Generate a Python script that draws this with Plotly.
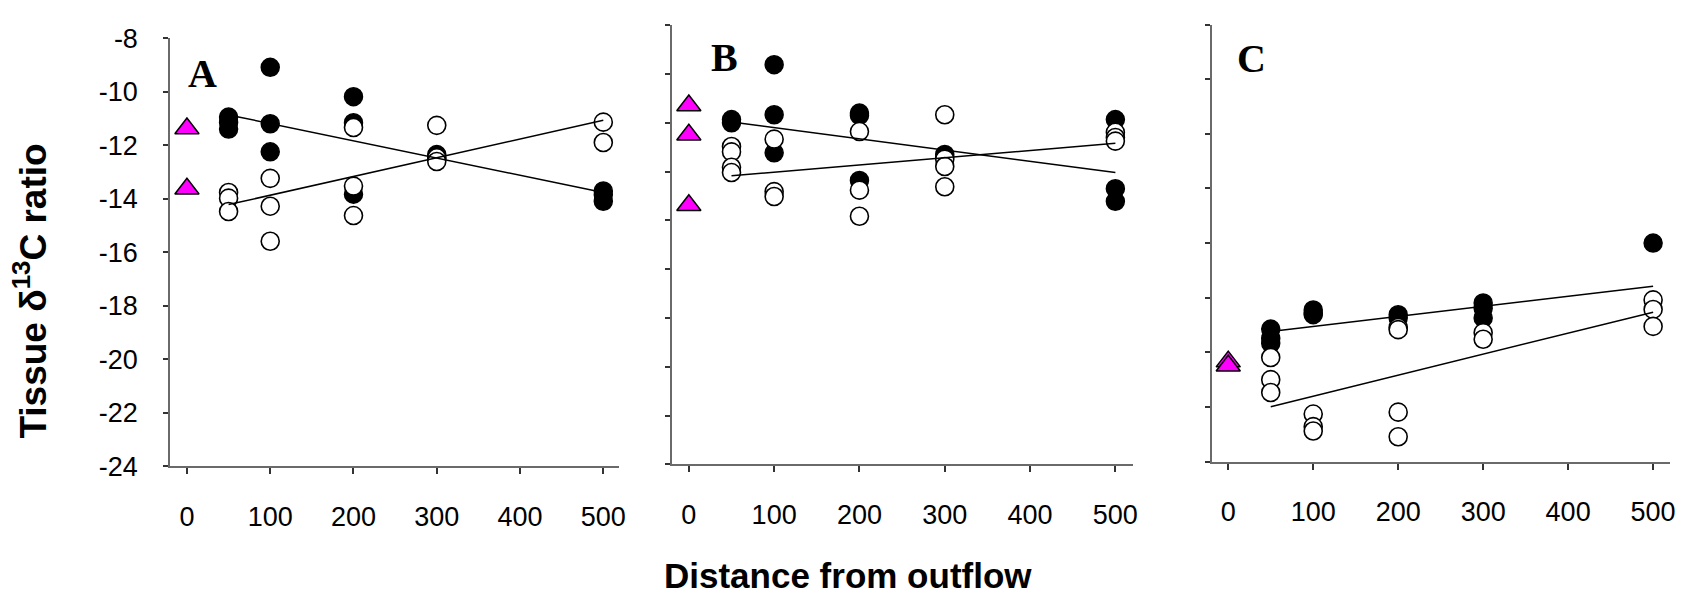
import plotly.graph_objects as go

W, H = 1693, 610

# ---------------- data ----------------
distances_ticks = [0, 100, 200, 300, 400, 500]
y_ticks = [-24, -22, -20, -18, -16, -14, -12, -10, -8]
y_tick_labels = ["-24", "-22", "-20", "-18", "-16", "-14", "-12", "-10", "-8"]

# Panel A
A_tri_x = [0, 0]
A_tri_y = [-11.38, -13.63]
A_filled_x = [50, 50, 50, 100, 100, 100, 200, 200, 200, 300, 300, 500, 500, 500]
A_filled_y = [-10.95, -11.15, -11.4, -9.09, -11.2, -12.25, -10.19, -11.16, -13.83, -12.35, -12.5, -13.71, -13.85, -14.1]
A_open_x = [50, 50, 50, 100, 100, 100, 200, 200, 200, 300, 300, 300, 500, 500]
A_open_y = [-13.77, -13.98, -14.48, -13.24, -14.28, -15.59, -11.34, -13.53, -14.63, -11.26, -12.47, -12.61, -11.14, -11.9]
A_fit_x = [50, 500]
A_fit_filled = [-10.87, -13.77]
A_fit_open = [-14.22, -11.07]

# Panel B
B_tri_x = [0, 0, 0]
B_tri_y = [-9.29, -10.49, -13.38]
B_filled_x = [50, 50, 100, 100, 100, 200, 200, 200, 300, 300, 500, 500, 500]
B_filled_y = [-9.87, -10.0, -7.62, -9.67, -11.23, -9.6, -9.7, -12.36, -11.3, -11.4, -9.87, -12.7, -13.22]
B_open_x = [50, 50, 50, 50, 100, 100, 100, 200, 200, 200, 300, 300, 300, 300, 500, 500, 500]
B_open_y = [-10.97, -11.19, -11.82, -12.04, -10.67, -12.82, -13.02, -10.36, -12.76, -13.83, -9.67, -11.49, -11.79, -12.62, -10.39, -10.6, -10.75]
B_fit_x = [50, 500]
B_fit_filled = [-9.97, -12.04]
B_fit_open = [-12.17, -10.84]

# Panel C
C_tri_x = [0, 0]
C_tri_y = [-20.34, -20.49]
C_filled_x = [50, 50, 50, 100, 100, 100, 200, 200, 300, 300, 300, 500]
C_filled_y = [-19.15, -19.49, -19.67, -18.45, -18.56, -18.62, -18.62, -18.74, -18.19, -18.39, -18.74, -16.0]
C_open_x = [50, 50, 50, 100, 100, 100, 200, 200, 200, 200, 300, 300, 500, 500, 500]
C_open_y = [-20.19, -21.0, -21.47, -22.26, -22.72, -22.88, -19.09, -19.17, -22.19, -23.09, -19.28, -19.52, -18.08, -18.43, -19.05]
C_fit_x = [50, 500]
C_fit_filled = [-19.24, -17.58]
C_fit_open = [-21.99, -18.53]

panels = [
    dict(letter="A", tri=(A_tri_x, A_tri_y), filled=(A_filled_x, A_filled_y), open=(A_open_x, A_open_y),
         fit=(A_fit_x, A_fit_filled, A_fit_open), xr=[-20, 519], yr=[-24, -8],
         xd=[171, 621.7], yd=[24.3, 474.7], labels=True, lpos=(203, 62)),
    dict(letter="B", tri=(B_tri_x, B_tri_y), filled=(B_filled_x, B_filled_y), open=(B_open_x, B_open_y),
         fit=(B_fit_x, B_fit_filled, B_fit_open), xr=[-19.5, 520.2], yr=[-24, -6],
         xd=[675, 1137.3], yd=[10.7, 472.7], labels=False, lpos=(728, 45)),
    dict(letter="C", tri=(C_tri_x, C_tri_y), filled=(C_filled_x, C_filled_y), open=(C_open_x, C_open_y),
         fit=(C_fit_x, C_fit_filled, C_fit_open), xr=[-18.8, 519.6], yr=[-24, -8],
         xd=[1217.3, 1676.7], yd=[10, 469.7], labels=False, lpos=(1257, 46)),
]

fig = go.Figure()
TICKFONT = dict(family="Liberation Sans, Arial, sans-serif", size=27, color="black")
AXCOL = "#6a6a6a"

for i, p in enumerate(panels):
    n = "" if i == 0 else str(i + 1)
    xa, ya = "x" + n, "y" + n
    fig.add_trace(go.Scatter(x=p["filled"][0], y=p["filled"][1], mode="markers", xaxis=xa, yaxis=ya,
                             marker=dict(symbol="circle", size=18, color="black", line=dict(color="black", width=1.5)),
                             showlegend=False, cliponaxis=False))
    fig.add_trace(go.Scatter(x=p["open"][0], y=p["open"][1], mode="markers", xaxis=xa, yaxis=ya,
                             marker=dict(symbol="circle", size=18, color="white", line=dict(color="black", width=1.6)),
                             showlegend=False, cliponaxis=False))
    fig.add_trace(go.Scatter(x=p["tri"][0], y=p["tri"][1], mode="markers", xaxis=xa, yaxis=ya,
                             marker=dict(symbol="triangle-up", size=21, color="#FF00FF", line=dict(color="black", width=1.5)),
                             showlegend=False, cliponaxis=False))
    fx, ff, fo = p["fit"]
    fig.add_trace(go.Scatter(x=fx, y=ff, mode="lines", xaxis=xa, yaxis=ya,
                             line=dict(color="black", width=1.5), showlegend=False))
    fig.add_trace(go.Scatter(x=fx, y=fo, mode="lines", xaxis=xa, yaxis=ya,
                             line=dict(color="black", width=1.5), showlegend=False))

    xdom = [p["xd"][0] / W, p["xd"][1] / W]
    ydom = [1 - p["yd"][1] / H, 1 - p["yd"][0] / H]
    xkey = "xaxis" + n
    ykey = "yaxis" + n
    yt = list(range(-24, int(p["yr"][1]) + 1, 2))
    fig.layout[xkey] = dict(domain=xdom, range=p["xr"], anchor=ya, tickmode="array", tickvals=distances_ticks,
                            ticktext=[str(v) for v in distances_ticks], showline=True, linecolor=AXCOL, linewidth=2,
                            ticks="outside", ticklen=6, tickwidth=1.5, tickcolor="#333333", showgrid=False,
                            zeroline=False, tickfont=TICKFONT, ticklabelstandoff=19)
    fig.layout[ykey] = dict(domain=ydom, range=p["yr"], anchor=xa, tickmode="array",
                            tickvals=y_ticks if p["labels"] else yt,
                            ticktext=y_tick_labels if p["labels"] else [str(v) for v in yt],
                            showline=True, linecolor=AXCOL, linewidth=2, ticks="outside", ticklen=5, tickwidth=1.5,
                            tickcolor="#333333", showgrid=False, zeroline=False, tickfont=TICKFONT,
                            showticklabels=p["labels"], ticklabelstandoff=20)
    fig.add_annotation(text="<b>%s</b>" % p["letter"], x=p["lpos"][0] / W, y=1 - p["lpos"][1] / H,
                       xref="paper", yref="paper", showarrow=False, xanchor="center", yanchor="middle",
                       font=dict(family="Liberation Serif, Times New Roman, serif", size=40, color="black"))

fig.add_annotation(text="<b>Tissue δ<sup>13</sup>C ratio</b>", x=31 / W, y=1 - 290 / H, xref="paper", yref="paper",
                   showarrow=False, textangle=-90, xanchor="center", yanchor="middle",
                   font=dict(family="Liberation Sans, Arial, sans-serif", size=37, color="black"))
fig.add_annotation(text="<b>Distance from outflow</b>", x=852 / W, y=1 - 589 / H, xref="paper", yref="paper",
                   showarrow=False, xanchor="center", yanchor="middle",
                   font=dict(family="Liberation Sans, Arial, sans-serif", size=35, color="black"))

fig.update_layout(width=W, height=H, margin=dict(l=0, r=0, t=0, b=0), plot_bgcolor="white",
                  paper_bgcolor="white", showlegend=False)

fig.write_html("out.html")
